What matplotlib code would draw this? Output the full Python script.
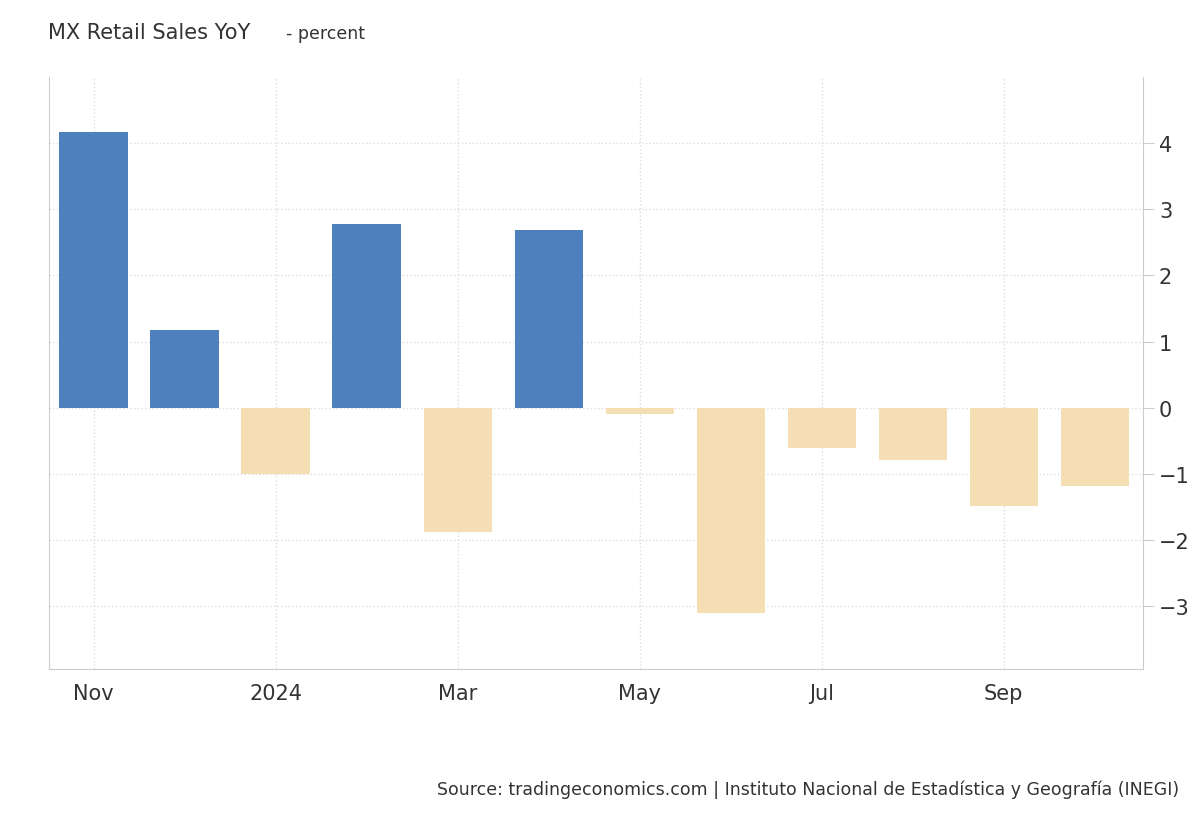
import matplotlib.pyplot as plt

months = ['Nov', 'Dec', 'Jan', 'Feb', 'Mar', 'Apr', 'May', 'Jun', 'Jul', 'Aug', 'Sep', 'Oct']
values = [4.17, 1.17, -1.0, 2.78, -1.88, 2.69, -0.09, -3.1, -0.61, -0.79, -1.49, -1.19]
tick_pos = [0, 2, 4, 6, 8, 10]
tick_labels = ['Nov', '2024', 'Mar', 'May', 'Jul', 'Sep']

fig = plt.figure(figsize=(12, 8.2), dpi=100)
ax = fig.add_axes([0.0408, 0.1829, 0.9117, 0.722])

colors = ['#4d80bc' if v >= 0 else '#f5deb3' for v in values]
ax.bar(range(len(values)), values, width=0.75, color=colors, zorder=2)

ax.set_xlim(-0.49, 11.53)
ax.set_ylim(-3.95, 5.0)
ax.set_xticks(tick_pos)
ax.set_xticklabels(tick_labels, fontsize=15, color='#333333')
ax.set_yticks(range(-3, 5))
ax.yaxis.tick_right()
ax.tick_params(axis='y', labelsize=15, colors='#333333', length=8, color='#cccccc')
ax.tick_params(axis='x', length=0, pad=10)
ax.grid(True, color='#dddddd', linestyle=':', linewidth=1, zorder=0)
for s in ['top']:
    ax.spines[s].set_visible(False)
for s in ['left', 'right', 'bottom']:
    ax.spines[s].set_color('#cccccc')

fig.text(0.04, 0.953, 'MX Retail Sales YoY', fontsize=15, color='#333333')
fig.text(0.238, 0.953, '- percent', fontsize=12.5, color='#333333')
fig.text(0.983, 0.03, 'Source: tradingeconomics.com | Instituto Nacional de Estadística y Geografía (INEGI)',
         fontsize=12.5, color='#333333', ha='right')

fig.savefig('out.png')
